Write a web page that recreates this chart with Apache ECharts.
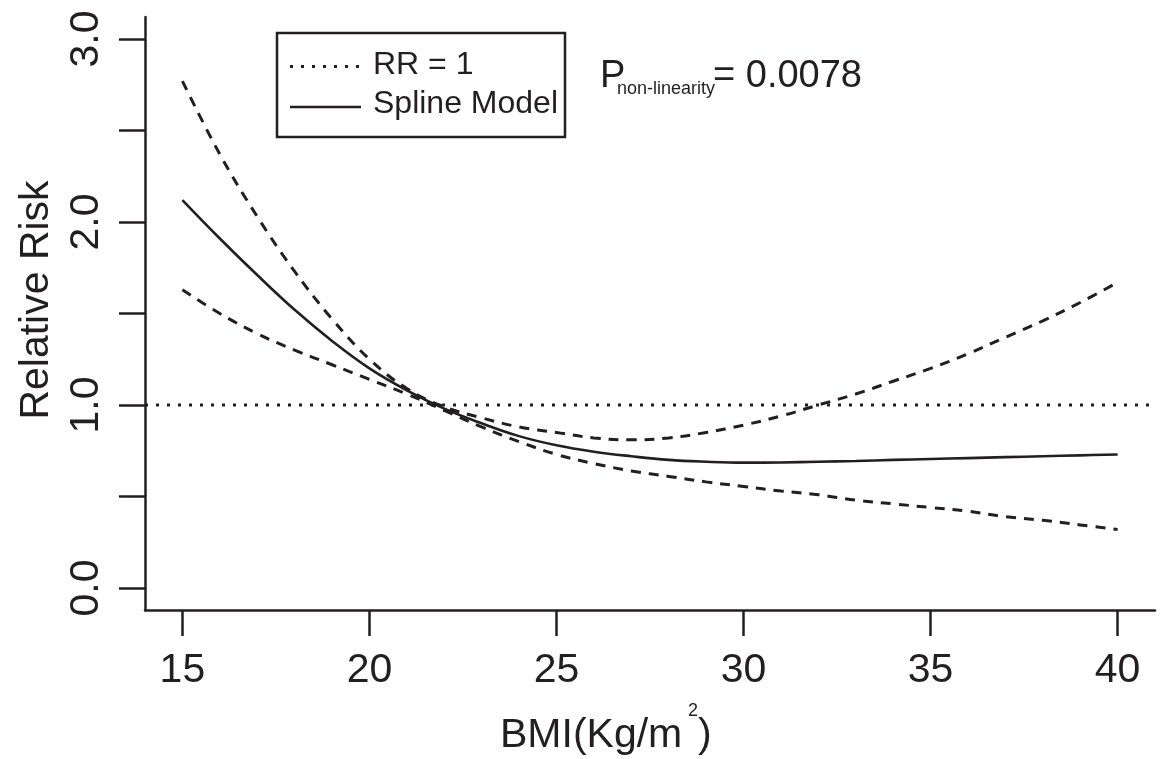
<!DOCTYPE html>
<html>
<head>
<meta charset="utf-8">
<title>Relative risk by BMI</title>
<script src="https://cdn.jsdelivr.net/npm/echarts@6/dist/echarts.min.js"></script>
<style>
  html, body { margin: 0; padding: 0; background: #fff; }
  #chart { width: 1173px; height: 759px; }
</style>
</head>
<body>
<div id="chart"></div>
<script>
// BMI grid (kg/m^2) at which the spline and its confidence band are evaluated
const bmi = [15, 16, 17, 18, 19, 20, 21, 22, 23, 24, 25, 26, 27, 28, 29, 30, 31, 32, 33, 34, 35, 36, 37, 38, 39, 40];
// Pooled relative risk from the restricted cubic spline model
const rrSpline = [2.12, 1.91, 1.71, 1.52, 1.35, 1.20, 1.08, 0.98, 0.90, 0.83, 0.78, 0.745, 0.72, 0.70, 0.69, 0.685, 0.686, 0.69, 0.694, 0.70, 0.705, 0.71, 0.715, 0.72, 0.725, 0.73];
// Upper and lower 95% confidence limits
const rrUpper = [2.77, 2.37, 2.03, 1.73, 1.47, 1.25, 1.09, 0.99, 0.93, 0.88, 0.85, 0.82, 0.81, 0.82, 0.85, 0.89, 0.94, 1.00, 1.06, 1.13, 1.20, 1.28, 1.37, 1.46, 1.56, 1.67];
const rrLower = [1.63, 1.50, 1.39, 1.30, 1.22, 1.14, 1.06, 0.97, 0.88, 0.80, 0.73, 0.68, 0.64, 0.61, 0.58, 0.555, 0.53, 0.51, 0.48, 0.46, 0.44, 0.42, 0.39, 0.37, 0.345, 0.32];
// Reference line (RR = 1) across the full x range
const refX = [14, 41];
const refY = [1, 1];
// Axis ticks and labels
const xTicks = [15, 20, 25, 30, 35, 40];
const yTicks = [0, 0.5, 1, 1.5, 2, 2.5, 3];
const yLabels = [0, 1, 2, 3];
const pText = { main: 'P', sub: 'non-linearity', value: '= 0.0078' };

const ink = '#231f20';
const font = '"Liberation Sans", Arial, Helvetica, sans-serif';

const pairs = (xs, ys) => xs.map((x, i) => [x, ys[i]]);

const chart = echarts.init(document.getElementById('chart'), null, { renderer: 'canvas' });

chart.setOption({
  backgroundColor: '#ffffff',
  animation: false,
  textStyle: { fontFamily: font, color: ink },
  grid: { left: 145, top: 17, right: 18, bottom: 149, containLabel: false, outerBoundsMode: 'none' },
  xAxis: {
    type: 'value', min: 14, max: 41,
    axisLine: { show: true, onZero: false, lineStyle: { color: ink, width: 2.5 } },
    axisTick: { show: true, customValues: xTicks, length: 26, lineStyle: { color: ink, width: 2.5 } },
    axisLabel: { customValues: xTicks, fontSize: 41, color: ink, margin: 40, fontFamily: font },
    splitLine: { show: false }
  },
  yAxis: {
    type: 'value', min: -0.12, max: 3.12,
    axisLine: { show: true, onZero: false, lineStyle: { color: ink, width: 2.5 } },
    axisTick: { show: true, customValues: yTicks, length: 26, lineStyle: { color: ink, width: 2.5 } },
    axisLabel: {
      customValues: yLabels, fontSize: 41, color: ink, margin: 38, rotate: 90, fontFamily: font,
      formatter: v => Number(v).toFixed(1)
    },
    splitLine: { show: false }
  },
  series: [
    {
      name: 'RR = 1', type: 'line', data: pairs(refX, refY), symbol: 'none', silent: true,
      lineStyle: { color: ink, width: 3, type: [3, 8], cap: 'butt' }
    },
    {
      name: 'Upper 95% CI', type: 'line', data: pairs(bmi, rrUpper), symbol: 'none', smooth: 0.4,
      lineStyle: { color: ink, width: 3, type: [10, 8] }
    },
    {
      name: 'Lower 95% CI', type: 'line', data: pairs(bmi, rrLower), symbol: 'none', smooth: 0.4,
      lineStyle: { color: ink, width: 3, type: [10, 8] }
    },
    {
      name: 'Spline Model', type: 'line', data: pairs(bmi, rrSpline), symbol: 'none', smooth: 0.4,
      lineStyle: { color: ink, width: 2.6, type: 'solid' }
    }
  ],
  graphic: [
    // Axis titles
    {
      type: 'text', x: 37, y: 300, rotation: Math.PI / 2,
      style: { text: 'Relative Risk', font: '41px ' + font, fill: ink, align: 'center', verticalAlign: 'middle' }
    },
    {
      type: 'text', x: 500, y: 736,
      style: { text: 'BMI(Kg/m', font: '41px ' + font, fill: ink, align: 'left', verticalAlign: 'middle' }
    },
    {
      type: 'text', x: 688, y: 711,
      style: { text: '2', font: '18px ' + font, fill: ink, align: 'left', verticalAlign: 'middle' }
    },
    {
      type: 'text', x: 698, y: 736,
      style: { text: ')', font: '41px ' + font, fill: ink, align: 'left', verticalAlign: 'middle' }
    },
    // Legend box
    {
      type: 'rect', shape: { x: 277, y: 33, width: 288, height: 104 },
      style: { fill: 'none', stroke: ink, lineWidth: 2.5 }
    },
    {
      type: 'line', shape: { x1: 290, y1: 66.5, x2: 361, y2: 66.5 },
      style: { stroke: ink, lineWidth: 3, lineDash: [3, 8] }
    },
    {
      type: 'line', shape: { x1: 290, y1: 107, x2: 361, y2: 107 },
      style: { stroke: ink, lineWidth: 2.6 }
    },
    {
      type: 'text', x: 373, y: 65.5,
      style: { text: 'RR = 1', font: '32px ' + font, fill: ink, align: 'left', verticalAlign: 'middle' }
    },
    {
      type: 'text', x: 373, y: 104.5,
      style: { text: 'Spline Model', font: '32px ' + font, fill: ink, align: 'left', verticalAlign: 'middle' }
    },
    // P for non-linearity
    {
      type: 'text', x: 600, y: 76.5,
      style: { text: pText.main, font: '38px ' + font, fill: ink, align: 'left', verticalAlign: 'middle' }
    },
    {
      type: 'text', x: 617, y: 89,
      style: { text: pText.sub, font: '18px ' + font, fill: ink, align: 'left', verticalAlign: 'middle' }
    },
    {
      type: 'text', x: 713, y: 76.5,
      style: { text: pText.value, font: '38px ' + font, fill: ink, align: 'left', verticalAlign: 'middle' }
    }
  ]
});
</script>
</body>
</html>
